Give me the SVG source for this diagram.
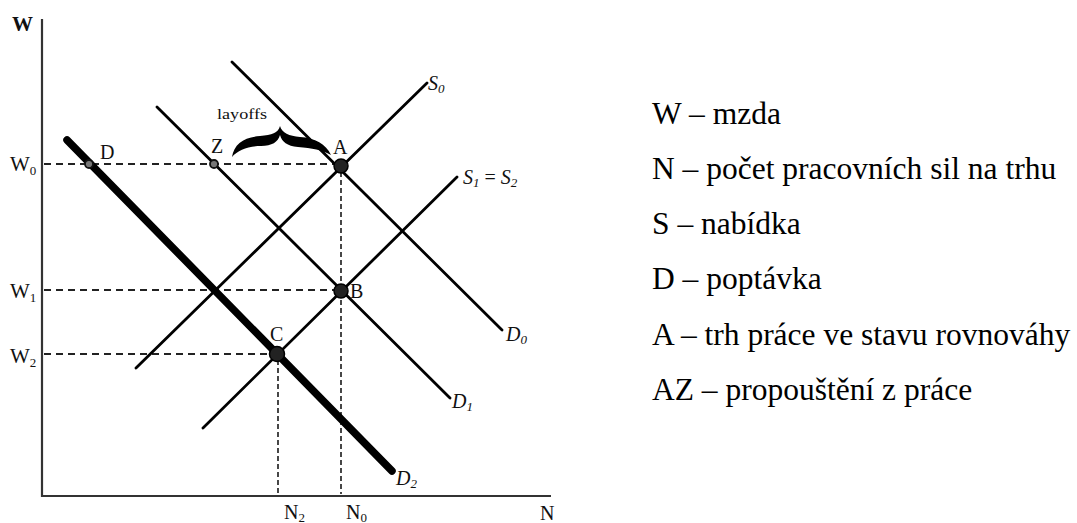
<svg xmlns="http://www.w3.org/2000/svg" width="1077" height="523" viewBox="0 0 1077 523">
<style>
text{font-family:"Liberation Serif","Times New Roman",serif;fill:#111}
.lbl{font-size:20px}
.it{font-style:italic;font-size:20px}
.sub{font-size:13px}
.leg{font-size:31.5px;fill:#000}
.axis{stroke:#333;stroke-width:2.2;fill:none}
.curve{stroke:#000;stroke-width:2.8;fill:none;stroke-linecap:round}
.dash{stroke:#222;stroke-width:2;stroke-dasharray:7 5;fill:none}
.vdash{stroke:#333;stroke-width:1.8;stroke-dasharray:5 3;fill:none}
.big{fill:#222;stroke:#000;stroke-width:1.5}
.small{fill:#777;stroke:#111;stroke-width:1.8}
</style>
<rect width="1077" height="523" fill="#fff"/>
<g id="axes">
<line class="axis" x1="42" y1="19" x2="42" y2="497"/>
<line class="axis" x1="42" y1="496" x2="551" y2="496"/>
<text x="12" y="31" style="font-size:21px;font-weight:bold">W</text>
<text x="540" y="520" style="font-size:20px">N</text>
</g>
<g id="connectors">
<line class="dash" x1="44" y1="164" x2="336" y2="164"/>
<line class="dash" x1="44" y1="290" x2="336" y2="290"/>
<line class="dash" x1="44" y1="354" x2="272" y2="354"/>
<line class="vdash" x1="341" y1="172" x2="341" y2="494"/>
<line class="vdash" x1="278" y1="360" x2="278" y2="494"/>
<line id="S0" class="curve" x1="136" y1="368" x2="427" y2="83"/>
<line id="S1" class="curve" x1="203" y1="428" x2="457" y2="177"/>
<line id="D0" class="curve" x1="232" y1="62" x2="502" y2="330"/>
<line id="D1" class="curve" x1="157" y1="107" x2="450" y2="398"/>
<line id="D2" x1="67" y1="140" x2="392" y2="471" stroke="#000" stroke-width="7.5" stroke-linecap="round"/>
<path id="brace" fill="#000" d="M232,157 C234,144 244,137 260,136 C272,135 278,133 280,126 C282,133 289,136 300,137 C315,138 326,144 331,155 C322,150 312,148 298,147 C287,146 282,142 280,135 C278,142 272,146 261,146 C248,146 238,150 232,157 Z"/>
</g>
<g id="point-D"><circle class="small" cx="89" cy="164" r="4"/><text class="lbl" x="100" y="159">D</text></g>
<g id="point-Z"><circle class="small" cx="214" cy="164" r="4"/><text class="lbl" x="211" y="153">Z</text></g>
<g id="point-A"><circle class="big" cx="341" cy="166" r="7"/><text class="lbl" x="333" y="154">A</text></g>
<g id="point-B"><circle class="big" cx="341" cy="291" r="7"/><text class="lbl" x="350" y="298">B</text></g>
<g id="point-C"><circle class="big" cx="277" cy="354" r="7.5"/><text class="lbl" x="270" y="341">C</text></g>
<g id="label-layoffs"><text x="217" y="119" style="font-size:15px" textLength="50" lengthAdjust="spacingAndGlyphs">layoffs</text></g>
<g id="w-labels">
<text x="10" y="171" style="font-size:21px">W<tspan class="sub" dy="4">0</tspan></text>
<text x="10" y="298" style="font-size:21px">W<tspan class="sub" dy="4">1</tspan></text>
<text x="10" y="363" style="font-size:21px">W<tspan class="sub" dy="4">2</tspan></text>
</g>
<g id="n-labels">
<text x="284" y="519" style="font-size:20px">N<tspan class="sub" dy="3">2</tspan></text>
<text x="346" y="519" style="font-size:20px">N<tspan class="sub" dy="3">0</tspan></text>
</g>
<g id="curve-labels">
<text class="it" x="428" y="90">S<tspan class="sub" dy="3">0</tspan></text>
<text class="it" x="463" y="184">S<tspan class="sub" dy="3">1</tspan><tspan dy="-3" style="font-style:normal"> = </tspan>S<tspan class="sub" dy="3">2</tspan></text>
<text class="it" x="506" y="341">D<tspan class="sub" dy="3">0</tspan></text>
<text class="it" x="452" y="408">D<tspan class="sub" dy="3">1</tspan></text>
<text class="it" x="396" y="485">D<tspan class="sub" dy="3">2</tspan></text>
</g>
<g id="legend">
<text class="leg" x="652" y="124">W – mzda</text>
<text class="leg" x="652" y="179">N – počet pracovních sil na trhu</text>
<text class="leg" x="652" y="234">S – nabídka</text>
<text class="leg" x="652" y="289">D – poptávka</text>
<text class="leg" x="652" y="345">A – trh práce ve stavu rovnováhy</text>
<text class="leg" x="652" y="400">AZ – propouštění z práce</text>
</g>
</svg>
